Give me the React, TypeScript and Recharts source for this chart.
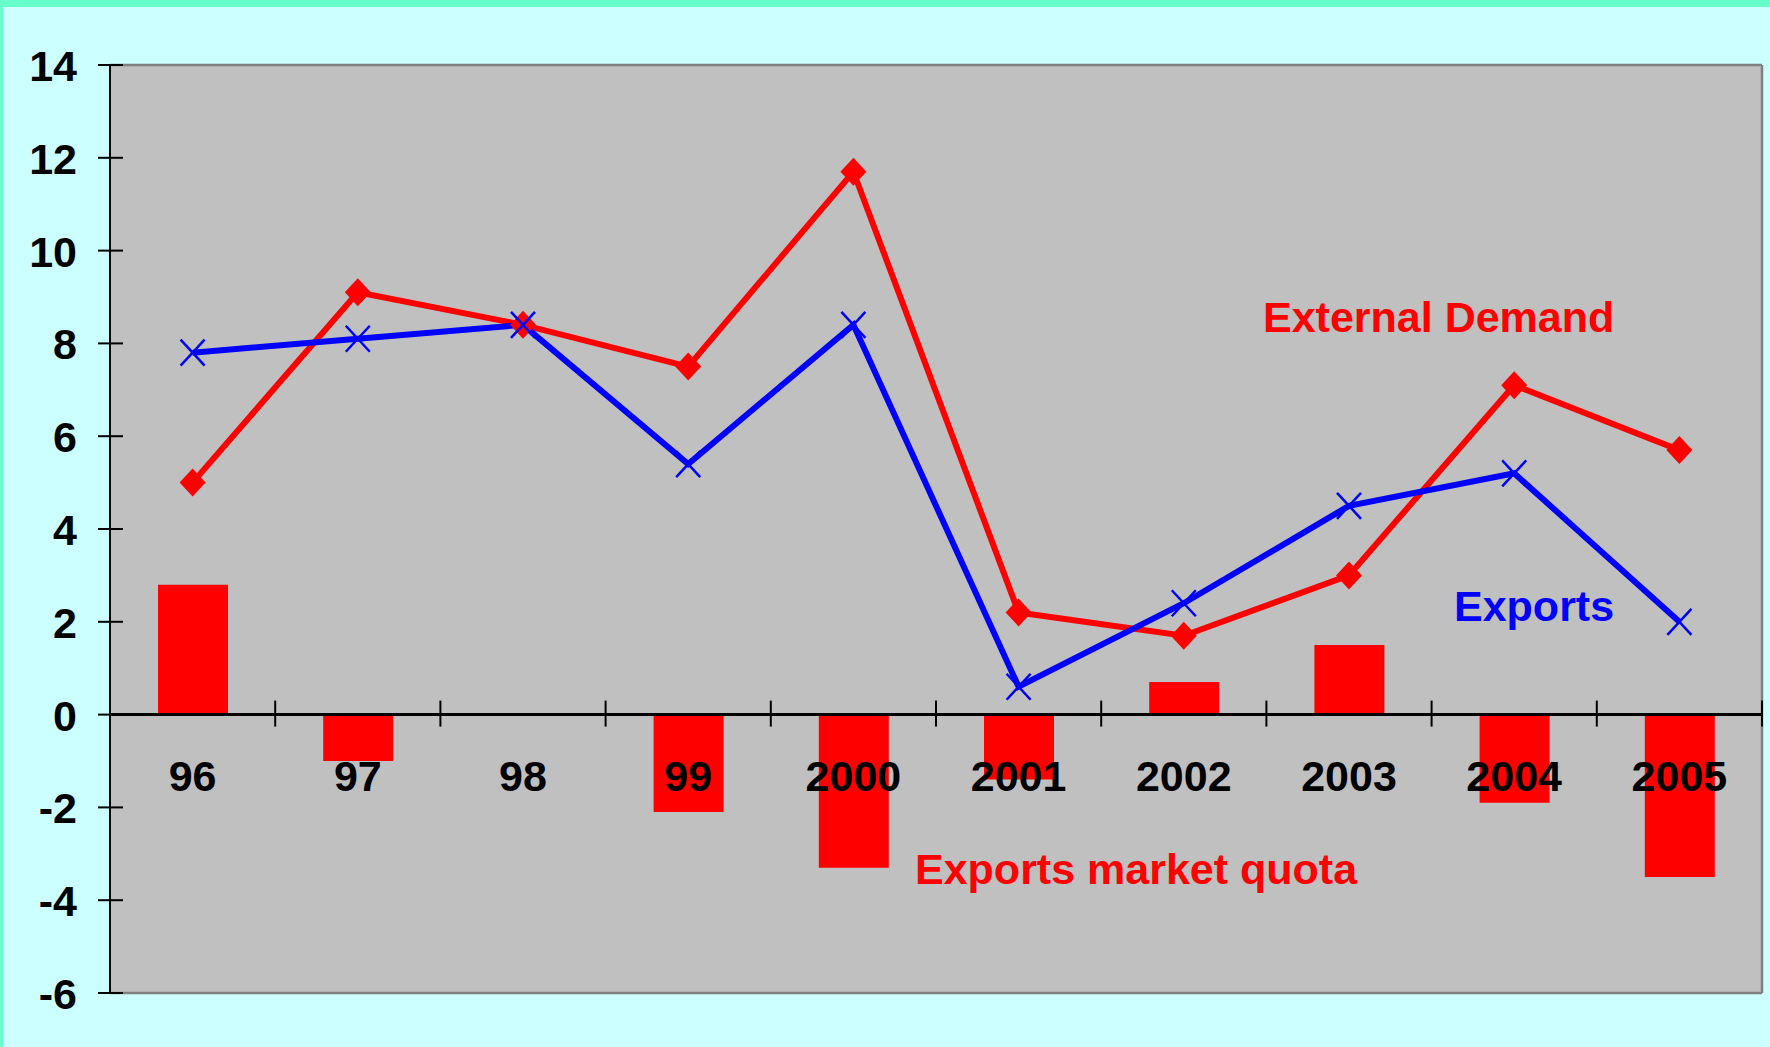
import React from "react";
import {
  ComposedChart,
  Bar,
  Line,
  XAxis,
  YAxis,
  CartesianGrid,
  ReferenceLine,
} from "recharts";

const categories = ["96", "97", "98", "99", "2000", "2001", "2002", "2003", "2004", "2005"];
const externalDemand = [5.0, 9.1, 8.4, 7.5, 11.7, 2.2, 1.7, 3.0, 7.1, 5.7];
const exportsSeries = [7.8, 8.1, 8.4, 5.4, 8.4, 0.6, 2.4, 4.5, 5.2, 2.0];
const marketQuota = [2.8, -1.0, 0, -2.1, -3.3, -1.4, 0.7, 1.5, -1.9, -3.5];
const yTicks = [-6, -4, -2, 0, 2, 4, 6, 8, 10, 12, 14];
const Y_MIN = -6;
const Y_MAX = 14;

const data = categories.map((c, i) => ({
  cat: c,
  demand: externalDemand[i],
  exports: exportsSeries[i],
  quota: marketQuota[i],
}));

const W = 1770;
const H = 1047;
const X_AXIS_H = 10;
const MARGIN = { top: 65, right: 8, bottom: 54 - X_AXIS_H, left: 0 };
const Y_AXIS_W = 110;
const PLOT_LEFT = MARGIN.left + Y_AXIS_W;
const PLOT_W = W - PLOT_LEFT - MARGIN.right;
const PLOT_H = H - MARGIN.top - MARGIN.bottom - X_AXIS_H;
const ZERO_Y = MARGIN.top + (PLOT_H * (Y_MAX - 0)) / (Y_MAX - Y_MIN);
const BAND = PLOT_W / categories.length;

const FONT = "'Liberation Sans', Arial, Helvetica, sans-serif";

const renderXTick = (props: any) => {
  const { x, index, payload } = props;
  const left = x - BAND / 2;
  return (
    <g key={`xt-${index}`}>
      <line x1={left} x2={left} y1={ZERO_Y - 14} y2={ZERO_Y + 12} stroke="#000" strokeWidth={2} />
      {index === categories.length - 1 && (
        <line x1={x + BAND / 2} x2={x + BAND / 2} y1={ZERO_Y - 14} y2={ZERO_Y + 12} stroke="#000" strokeWidth={2} />
      )}
      <text
        x={x}
        y={ZERO_Y + 76}
        textAnchor="middle"
        fontFamily={FONT}
        fontWeight="bold"
        fontSize={43}
        fill="#000"
      >
        {payload.value}
      </text>
    </g>
  );
};

const renderYTick = (props: any) => {
  const { y, payload, index } = props;
  return (
    <g key={`yt-${index}`}>
      <line x1={PLOT_LEFT - 12} x2={PLOT_LEFT + 13} y1={y} y2={y} stroke="#000" strokeWidth={2} />
      <text
        x={PLOT_LEFT - 33}
        y={y + 16}
        textAnchor="end"
        fontFamily={FONT}
        fontWeight="bold"
        fontSize={43}
        fill="#000"
      >
        {payload.value}
      </text>
    </g>
  );
};

const Diamond = (props: any) => {
  const { cx, cy, index } = props;
  if (cx == null || cy == null) return <g key={`d-${index}`} />;
  const hw = 13;
  const hh = 14;
  return (
    <path
      key={`d-${index}`}
      d={`M${cx},${cy - hh} L${cx + hw},${cy} L${cx},${cy + hh} L${cx - hw},${cy} Z`}
      fill="#FF0000"
    />
  );
};

const Cross = (props: any) => {
  const { cx, cy, index } = props;
  if (cx == null || cy == null) return <g key={`x-${index}`} />;
  const hw = 12;
  const hh = 13;
  return (
    <g key={`x-${index}`}>
      <line x1={cx - hw} y1={cy - hh} x2={cx + hw} y2={cy + hh} stroke="#0000FF" strokeWidth={2.5} />
      <line x1={cx - hw} y1={cy + hh} x2={cx + hw} y2={cy - hh} stroke="#0000FF" strokeWidth={2.5} />
    </g>
  );
};

export default function App() {
  return (
    <div
      style={{
        position: "absolute",
        left: 0,
        top: 0,
        width: W,
        height: H,
        background: "#CCFFFF",
        overflow: "hidden",
      }}
    >
      <div style={{ position: "absolute", left: 0, top: 0, width: W, height: 7, background: "#66FFCC" }} />
      <div style={{ position: "absolute", left: 0, top: 0, width: 3, height: H, background: "#66FFCC" }} />
      <div style={{ position: "absolute", left: 0, top: 0 }}>
        <ComposedChart width={W} height={H} data={data} margin={MARGIN} barCategoryGap={0}>
          <CartesianGrid
            fill="#C0C0C0"
            stroke="#808080"
            strokeWidth={2.5}
            horizontalCoordinatesGenerator={({ offset }: any) => [offset.top, offset.top + offset.height]}
            verticalCoordinatesGenerator={({ offset }: any) => [offset.left + offset.width]}
          />
          <XAxis
            dataKey="cat"
            height={X_AXIS_H}
            axisLine={false}
            tickLine={false}
            interval={0}
            tick={renderXTick}
          />
          <YAxis
            width={Y_AXIS_W}
            domain={[Y_MIN, Y_MAX]}
            ticks={yTicks}
            type="number"
            allowDataOverflow
            interval={0}
            axisLine={{ stroke: "#000", strokeWidth: 2 }}
            tickLine={false}
            tickSize={0}
            tickMargin={0}
            tick={renderYTick}
          />
          <Bar dataKey="quota" fill="#FF0000" barSize={70} isAnimationActive={false} />
          <ReferenceLine y={0} stroke="#000" strokeWidth={3} />
          <Line
            dataKey="demand"
            stroke="#FF0000"
            strokeWidth={6}
            dot={Diamond}
            activeDot={false}
            isAnimationActive={false}
          />
          <Line
            dataKey="exports"
            stroke="#0000FF"
            strokeWidth={6}
            dot={Cross}
            activeDot={false}
            isAnimationActive={false}
          />
        </ComposedChart>
      </div>
      <svg
        width={W}
        height={H}
        style={{ position: "absolute", left: 0, top: 0, pointerEvents: "none" }}
      >
        <text x={1263} y={332} fontFamily={FONT} fontWeight="bold" fontSize={43} fill="#FF0000">
          External Demand
        </text>
        <text x={1454} y={621} fontFamily={FONT} fontWeight="bold" fontSize={43} fill="#0000FF">
          Exports
        </text>
        <text x={915} y={884} fontFamily={FONT} fontWeight="bold" fontSize={43} fill="#FF0000">
          Exports market quota
        </text>
      </svg>
    </div>
  );
}
